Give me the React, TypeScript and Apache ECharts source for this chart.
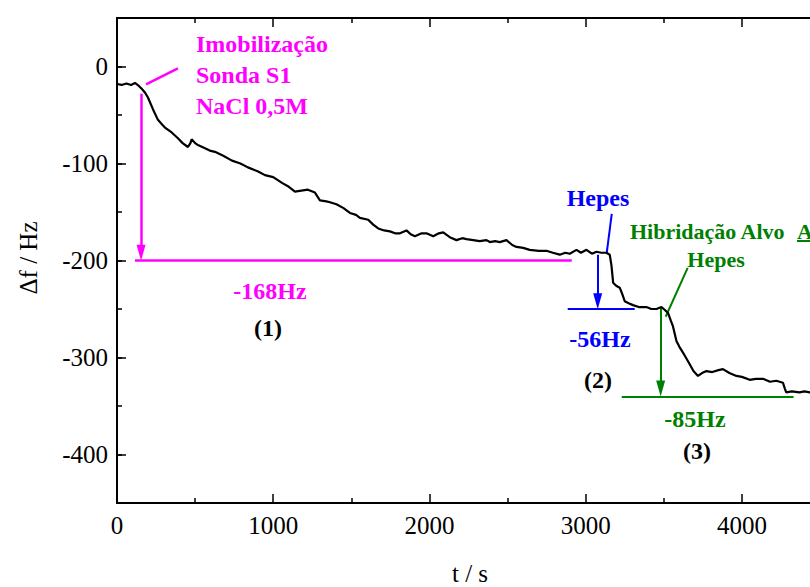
import React, { useEffect, useRef } from 'react';
import * as echarts from 'echarts';

// Measured curve: time (s) and frequency shift (Hz)
const timeS = [
  0, 30, 60, 90, 115, 140, 158, 180, 198, 230, 262, 290, 307, 350, 390, 420, 454, 470, 478, 500,
  518, 560, 600, 627, 680, 736, 790, 838, 900, 947, 1000, 1056, 1100, 1139, 1180, 1222, 1267, 1299,
  1340, 1363, 1405, 1450, 1491, 1530, 1555, 1608, 1640, 1672, 1710, 1747, 1780, 1811, 1853, 1880,
  1907, 1950, 1981, 2024, 2060, 2088, 2130, 2173, 2210, 2237, 2280, 2322, 2365, 2387, 2420, 2450,
  2493, 2530, 2557, 2600, 2642, 2700, 2749, 2790, 2834, 2870, 2898, 2941, 2970, 3005, 3040, 3069,
  3100, 3133, 3154, 3165, 3176, 3195, 3218, 3235, 3250, 3275, 3303, 3340, 3389, 3420, 3453, 3485,
  3500, 3527, 3545, 3559, 3581, 3600, 3623, 3645, 3666, 3690, 3719, 3745, 3773, 3810, 3850, 3879,
  3920, 3965, 4000, 4050, 4090, 4135, 4180, 4220, 4263, 4275, 4284, 4320, 4369, 4400, 4434, 4480,
];
const deltaF = [
  -18, -19, -17.5, -19, -17, -20, -23, -27, -32, -44, -55, -60, -63, -68, -74, -79, -83, -79, -75, -79,
  -81, -84, -87, -88, -92, -97, -100, -104, -108, -112, -114, -120, -124, -129, -128, -127, -130, -138,
  -139, -140, -142, -146, -151, -153, -156, -158, -163, -167, -169, -170, -172, -172, -169, -173,
  -175, -172, -172, -175, -172, -171, -176, -179, -177, -178, -179, -180, -179, -181, -180, -181,
  -179, -184, -186, -187, -189, -190, -190, -192, -194, -192, -193, -189, -192, -189, -193, -191,
  -192, -192, -194, -205, -223, -226, -228, -235, -242, -244, -246, -248, -248, -250, -250, -248,
  -250, -254, -262, -268, -283, -289, -295, -301, -307, -314, -319, -316, -314, -315, -313, -312,
  -316, -319, -320, -323, -322, -322, -325, -324, -326, -332, -336, -335, -336, -335, -336, -335,
];

// Axis ranges
const xRange = [0, 4500];
const yRange = [-450, 50];

// Annotation segments in data units: [t1, f1, t2, f2, arrowAtEnd]
const pinkSegments: [number, number, number, number, boolean][] = [
  [115, -200, 2911, -200, false],
  [154, -28, 154, -192, true],
  [186, -18.5, 390, -2, false],
];
const blueSegments: [number, number, number, number, boolean][] = [
  [2885, -250, 3314, -250, false],
  [3077, -194, 3077, -242, true],
  [3167, -152, 3135, -192, false],
];
const greenSegments: [number, number, number, number, boolean][] = [
  [3231, -340, 4331, -340, false],
  [3480, -249, 3480, -332, true],
  [3653, -207.6, 3512, -258, false],
];

const FONT = '"Liberation Serif", "Times New Roman", serif';
const PINK = '#ff00ff';
const BLUE = '#0000ff';
const GREEN = '#008000';

function markSeries(color: string, segs: [number, number, number, number, boolean][], width: number) {
  return {
    type: 'line',
    data: [],
    silent: true,
    markLine: {
      silent: true,
      animation: false,
      symbol: ['none', 'none'],
      label: { show: false },
      emphasis: { disabled: true },
      lineStyle: { color, width, type: 'solid' },
      data: segs.map((s) => [
        { coord: [s[0], s[1]], symbol: 'none' },
        { coord: [s[2], s[3]], symbol: s[4] ? 'triangle' : 'none', symbolSize: [9, 16] },
      ]),
    },
  };
}

export default function App() {
  const ref = useRef<HTMLDivElement>(null);
  useEffect(() => {
    const chart = echarts.init(ref.current!, null, { renderer: 'svg' });
    const txt = (text: string, x: number, y: number, fill: string, align = 'center', size = 24) => ({
      type: 'text',
      x,
      y,
      silent: true,
      style: {
        text,
        fill,
        fontFamily: FONT,
        fontWeight: 'bold',
        fontSize: size,
        align,
        verticalAlign: 'middle',
      },
    });
    const axisCommon = {
      type: 'value',
      axisLine: { show: true, onZero: false, lineStyle: { color: '#000', width: 2 } },
      splitLine: { show: false },
    };
    chart.setOption({
      animation: false,
      backgroundColor: '#fff',
      grid: { left: 117, top: 18, right: -10, bottom: 84, containLabel: false, outerBoundsMode: 'none' },
      xAxis: [
        {
          ...axisCommon,
          min: xRange[0],
          max: xRange[1],
          interval: 1000,
          position: 'bottom',
          axisTick: { show: true, inside: true, length: 9, lineStyle: { color: '#000', width: 1.5 } },
          minorTick: { show: true, splitNumber: 2, length: 5, lineStyle: { color: '#000', width: 1.5 } },
          axisLabel: {
            color: '#000',
            fontFamily: FONT,
            fontSize: 25,
            margin: 10,
            formatter: (v: number) => (v % 1000 === 0 && v <= 4000 ? String(v) : ''),
          },
        },
        {
          ...axisCommon,
          min: xRange[0],
          max: xRange[1],
          interval: 1000,
          position: 'top',
          axisTick: { show: true, inside: true, length: 9, lineStyle: { color: '#000', width: 1.5 } },
          minorTick: { show: true, splitNumber: 2, length: 5, lineStyle: { color: '#000', width: 1.5 } },
          axisLabel: { show: false },
        },
      ],
      yAxis: [
        {
          ...axisCommon,
          min: yRange[0],
          max: yRange[1],
          splitNumber: 5,
          position: 'left',
          axisTick: { show: true, inside: true, length: 9, lineStyle: { color: '#000', width: 1.5 } },
          axisLabel: {
            color: '#000',
            fontFamily: FONT,
            fontSize: 25,
            margin: 9,
            formatter: (v: number) => (v % 100 === 0 ? String(v) : ''),
          },
        },
        {
          type: 'value',
          min: yRange[0],
          max: yRange[1],
          interval: 50,
          position: 'left',
          axisLine: { show: false },
          splitLine: { show: false },
          axisTick: { show: true, inside: true, length: 5, lineStyle: { color: '#000', width: 1.5 } },
          axisLabel: { show: false },
        },
      ],
      series: [
        {
          type: 'line',
          data: timeS.map((t, i) => [t, deltaF[i]]),
          showSymbol: false,
          symbol: 'none',
          lineStyle: { color: '#000', width: 2.2 },
          silent: true,
          z: 5,
        },
        markSeries(PINK, pinkSegments, 2.5),
        markSeries(BLUE, blueSegments, 2),
        markSeries(GREEN, greenSegments, 2),
      ],
      graphic: [
        {
          type: 'text',
          x: 196,
          y: 28,
          silent: true,
          style: {
            text: 'Imobilização\nSonda S1\nNaCl 0,5M',
            fill: PINK,
            fontFamily: FONT,
            fontWeight: 'bold',
            fontSize: 24,
            lineHeight: 31,
            align: 'left',
            verticalAlign: 'top',
          },
        },
        txt('-168Hz', 270, 291, PINK),
        txt('(1)', 268, 328, '#000'),
        txt('Hepes', 598, 198, BLUE),
        txt('-56Hz', 600, 339, BLUE),
        txt('(2)', 598, 380, '#000'),
        txt('Hibridação Alvo', 630, 231, GREEN, 'left', 22),
        txt('A', 797, 231, GREEN, 'left', 22),
        { type: 'line', silent: true, shape: { x1: 797, y1: 241, x2: 812, y2: 241 }, style: { stroke: GREEN, lineWidth: 2 } },
        txt('Hepes', 716, 259, GREEN, 'center', 22),
        txt('-85Hz', 695, 419, GREEN),
        txt('(3)', 697, 451, '#000'),
        {
          type: 'text',
          x: 28,
          y: 258,
          rotation: Math.PI / 2,
          silent: true,
          style: { text: 'Δf / Hz', fill: '#000', fontFamily: FONT, fontSize: 25, align: 'center', verticalAlign: 'middle' },
        },
        {
          type: 'text',
          x: 470,
          y: 573,
          silent: true,
          style: { text: 't / s', fill: '#000', fontFamily: FONT, fontSize: 25, align: 'center', verticalAlign: 'middle' },
        },
      ],
    });
    return () => chart.dispose();
  }, []);
  return <div ref={ref} style={{ position: 'absolute', left: 0, top: 0, width: 810, height: 587 }} />;
}
